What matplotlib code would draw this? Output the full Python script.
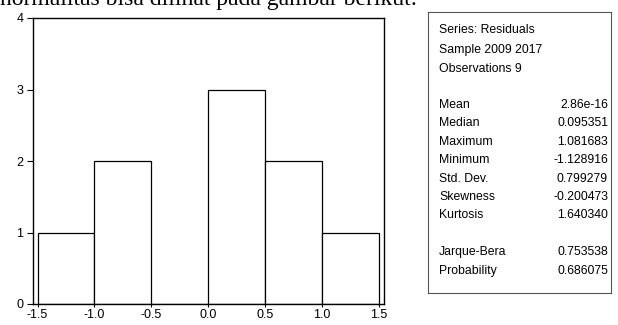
import numpy as np
import matplotlib.pyplot as plt

plt.rcParams['font.family'] = ['Liberation Sans', 'DejaVu Sans']

bin_edges = [-1.5, -1.0, -0.5, 0.0, 0.5, 1.0, 1.5]
counts = [1, 2, 0, 3, 2, 1]
xticks = [-1.5, -1.0, -0.5, 0.0, 0.5, 1.0, 1.5]
yticks = [0, 1, 2, 3, 4]

header = ['Series: Residuals', 'Sample 2009 2017', 'Observations 9']
stat_names = ['Mean', 'Median', 'Maximum', 'Minimum', 'Std. Dev.',
              'Skewness', 'Kurtosis', '', 'Jarque-Bera', 'Probability']
stat_values = ['2.86e-16', '0.095351', '1.081683', '-1.128916', '0.799279',
               '-0.200473', '1.640340', '', '0.753538', '0.686075']

fig = plt.figure(figsize=(6.18, 3.25), dpi=100)
W, H = 618, 325

# caption line cut off at the top of the screenshot
fig.text(0 / W, 1 - 5 / H, 'normalitas bisa dilihat pada gambar berikut:',
         family=['Liberation Serif'], fontsize=17, va='baseline', ha='left')

ax = fig.add_axes([33 / W, 1 - 304 / H, (384 - 33) / W, (304 - 18) / H])
widths = np.diff(bin_edges)
ax.bar(bin_edges[:-1], counts, width=widths, align='edge',
       facecolor='white', edgecolor='black', linewidth=0.9)
ax.set_xlim(-1.54, 1.544)
ax.set_ylim(0, 4)
ax.set_xticks(xticks)
ax.set_xticklabels(['%.1f' % t for t in xticks])
ax.set_yticks(yticks)
ax.tick_params(labelsize=9, width=0.8)
ax.tick_params(axis='y', length=4, pad=3)
ax.tick_params(axis='x', length=2, pad=1.5)
for s in ax.spines.values():
    s.set_linewidth(1.0)

# statistics box
bx = fig.add_axes([428 / W, 1 - 293 / H, (611 - 428) / W, (293 - 12) / H])
bx.set_xticks([])
bx.set_yticks([])
bx.set_xlim(428, 611)
bx.set_ylim(293, 12)
for s in bx.spines.values():
    s.set_linewidth(0.8)
    s.set_color('#555555')

fs = 8.8
y = 30
for line in header:
    bx.text(439, y, line, fontsize=fs, va='center', ha='left')
    y += 19.5
y = 105
for name, val in zip(stat_names, stat_values):
    bx.text(439, y, name, fontsize=fs, va='center', ha='left')
    bx.text(608, y, val, fontsize=fs, va='center', ha='right')
    y += 18.4

fig.savefig('out.png', dpi=100)
